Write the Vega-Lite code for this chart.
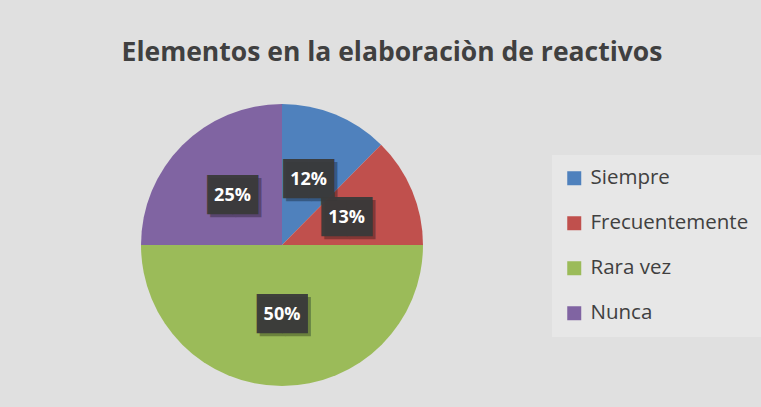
{
  "$schema": "https://vega.github.io/schema/vega-lite/v6.json",
  "width": 282,
  "height": 282,
  "autosize": {"type": "none"},
  "padding": {"left": 141, "top": 104, "right": 338, "bottom": 21},
  "background": "#e0e0e0",
  "title": {
    "text": "Elementos en la elaboraciòn de reactivos",
    "anchor": "middle",
    "frame": "group",
    "dx": 110,
    "offset": 17,
    "baseline": "alphabetic",
    "font": "Open Sans",
    "fontSize": 26.5,
    "fontWeight": "bold",
    "color": "#404040"
  },
  "data": {
    "values": [
      {"respuesta": "Siempre", "porcentaje": 0.124, "orden": 1},
      {"respuesta": "Frecuentemente", "porcentaje": 0.126, "orden": 2},
      {"respuesta": "Rara vez", "porcentaje": 0.5, "orden": 3},
      {"respuesta": "Nunca", "porcentaje": 0.25, "orden": 4}
    ]
  },
  "encoding": {
    "theta": {"field": "porcentaje", "type": "quantitative", "stack": true},
    "order": {"field": "orden", "type": "quantitative"},
    "detail": {"field": "respuesta", "type": "nominal"},
    "color": {
      "field": "respuesta",
      "type": "nominal",
      "scale": {
        "domain": ["Siempre", "Frecuentemente", "Rara vez", "Nunca"],
        "range": ["#4f81bd", "#c0504d", "#9bbb59", "#8064a2"]
      },
      "legend": {
        "title": null,
        "orient": "none",
        "legendX": 411,
        "legendY": 51,
        "fillColor": "#e7e7e7",
        "padding": 13,
        "symbolType": "square",
        "symbolSize": 196,
        "symbolStrokeWidth": 0,
        "symbolOffset": -1,
        "labelFont": "Open Sans",
        "labelFontSize": 20.5,
        "labelColor": "#404040",
        "labelOffset": 6,
        "rowPadding": 24,
        "labelLimit": 300
      }
    }
  },
  "layer": [
    {"mark": {"type": "arc"}},
    {
      "mark": {"type": "text", "radius": 70, "text": "██", "font": "DejaVu Sans", "fontSize": 33, "baseline": "middle", "dx": 3, "dy": 3, "opacity": 0.3},
      "encoding": {"color": {"value": "#000000"}}
    },
    {
      "mark": {"type": "text", "radius": 70, "text": "██", "font": "DejaVu Sans", "fontSize": 33, "baseline": "middle", "opacity": 0.95},
      "encoding": {"color": {"value": "#3a3a3a"}}
    },
    {
      "mark": {"type": "text", "radius": 70, "font": "Open Sans", "fontSize": 18, "fontWeight": "bold", "baseline": "middle"},
      "encoding": {
        "text": {"field": "porcentaje", "type": "quantitative", "format": ".0%"},
        "color": {"value": "#ffffff"}
      }
    }
  ],
  "config": {"view": {"stroke": null}}
}
